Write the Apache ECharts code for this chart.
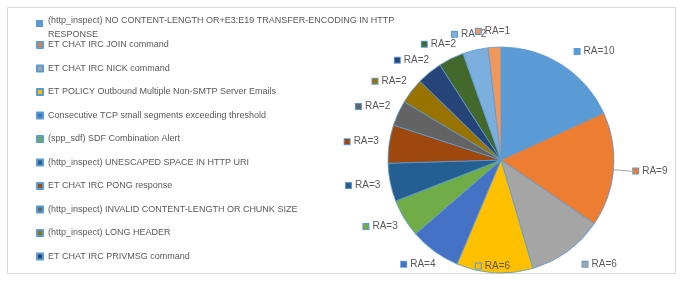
<!DOCTYPE html>
<html>
<head>
<meta charset="utf-8">
<script src="https://cdn.jsdelivr.net/npm/echarts@6/dist/echarts.min.js"></script>
<style>html,body{margin:0;padding:0;background:#fff;}#c{width:682px;height:281px;}</style>
</head>
<body>
<div id="c"></div>
<script>
const categories = [
  "(http_inspect) NO CONTENT-LENGTH OR+E3:E19 TRANSFER-ENCODING IN HTTP RESPONSE",
  "ET CHAT IRC JOIN command",
  "ET CHAT IRC NICK command",
  "ET POLICY Outbound Multiple Non-SMTP Server Emails",
  "Consecutive TCP small segments exceeding threshold",
  "(spp_sdf) SDF Combination Alert",
  "(http_inspect) UNESCAPED SPACE IN HTTP URI",
  "ET CHAT IRC PONG response",
  "(http_inspect) INVALID CONTENT-LENGTH OR CHUNK SIZE",
  "(http_inspect) LONG HEADER",
  "ET CHAT IRC PRIVMSG command",
  "Category 12",
  "Category 13",
  "Category 14"
];
const values = [10, 9, 6, 6, 4, 3, 3, 3, 2, 2, 2, 2, 2, 1];
const labelPrefix = "RA=";

const colors = ["#5B9BD5","#ED7D31","#A5A5A5","#FFC000","#4472C4","#70AD47",
  "#255E91","#9E480E","#636363","#997300","#264478","#43682B","#7CAFDD","#F1975A"];
const edge = "#5B9BD5";
const textColor = "#595959";
const font = "'Liberation Sans', Arial, sans-serif";
const CX = 501, CY = 160, R = 113, GAP = 10, RIGHT_SHIFT = 16;

const data = categories.map((name, i) => ({
  name: name,
  value: values[i],
  itemStyle: { color: colors[i] },
  label: {
    rich: {
      m: { width: 5, height: 5, backgroundColor: colors[i], borderColor: edge, borderWidth: 1 },
      t: { fontSize: 10, color: textColor, fontFamily: font, padding: [0, 0, 0, 4] }
    }
  },
  labelLine: { show: i === 1 }
}));

const chart = echarts.init(document.getElementById('c'), null, { renderer: 'canvas' });
chart.setOption({
  animation: false,
  color: colors,
  graphic: [{
    type: 'rect', z: -10, silent: true,
    shape: { x: 7.5, y: 7.5, width: 668, height: 266 },
    style: { fill: '#fff', stroke: '#D9D9D9', lineWidth: 1 }
  }],
  legend: [{
    data: [categories[0]],
    orient: 'vertical', left: 36, top: 14, padding: 0,
    itemWidth: 7, itemHeight: 16.1, itemGap: 0,
    icon: 'path://M0,0H7V7H0Z M0,16H0.1V16.1H0Z',
    itemStyle: { borderWidth: 0 },
    formatter: n => n.replace(' RESPONSE', '\nRESPONSE'),
    textStyle: { fontSize: 9, color: textColor, fontFamily: font, lineHeight: 14 },
    selectedMode: false
  }, {
    data: categories.slice(1, 11),
    orient: 'vertical', left: 36, top: 39, padding: 0,
    itemWidth: 6, itemHeight: 6, itemGap: 11.5,
    icon: 'rect',
    textStyle: { fontSize: 9, color: textColor, fontFamily: font, lineHeight: 12 },
    selectedMode: false
  }],
  series: [{
    type: 'pie',
    center: [CX, CY],
    radius: R,
    startAngle: 90,
    clockwise: true,
    avoidLabelOverlap: false,
    itemStyle: { borderColor: edge, borderWidth: 0.8 },
    label: {
      show: true,
      position: 'outside',
      formatter: p => '{m|}{t|' + labelPrefix + p.value + '}'
    },
    labelLine: { length: 12, length2: 4, lineStyle: { color: '#A6A6A6', width: 1 } },
    labelLayout: function (p) {
      const pts = p.labelLinePoints;
      if (!pts) return {};
      const dx = pts[0][0] - CX, dy = pts[0][1] - CY;
      const len = Math.sqrt(dx * dx + dy * dy) || 1;
      const ux = dx / len, uy = dy / len;
      const w = p.labelRect.width, h = p.labelRect.height;
      let x = CX + (R + GAP) * ux + ux * w / 2;
      let y = CY + (R + GAP) * uy + uy * h / 2;
      if (ux > 0.2) x += RIGHT_SHIFT;
      x = Math.min(x, 668 - w / 2);
      y = Math.min(y, 272 - h / 2);
      y = Math.max(y, 10 + h / 2);
      return { x: x, y: y, align: 'center', verticalAlign: 'middle' };
    },
    data: data
  }]
});
</script>
</body>
</html>
